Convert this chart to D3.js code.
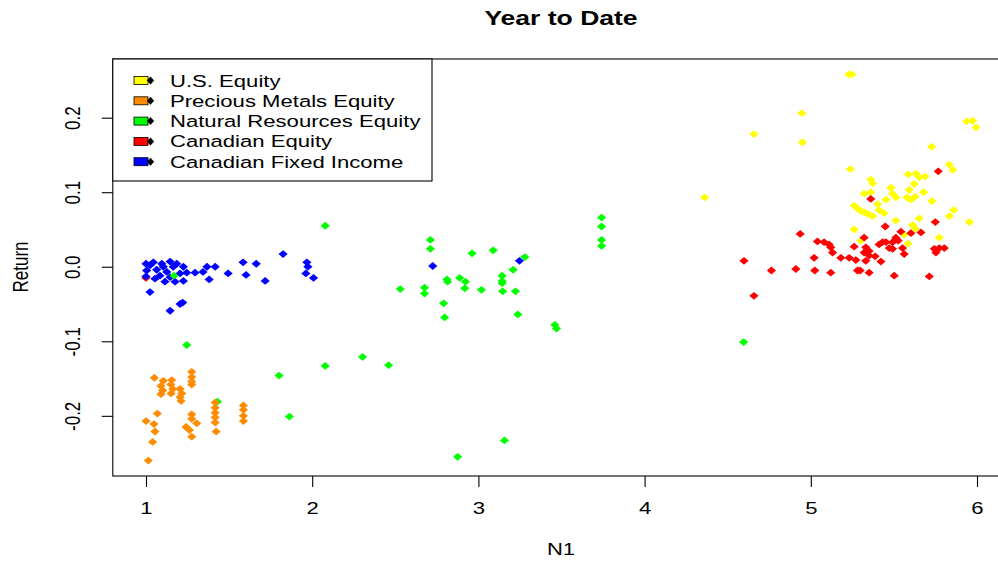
<!DOCTYPE html>
<html>
<head>
<meta charset="utf-8">
<script src="https://cdn.jsdelivr.net/npm/d3@7"></script>
<style>
  html, body { margin: 0; padding: 0; background: #fff; }
  svg { display: block; }
  text { font-family: "Liberation Sans", Arial, Helvetica, sans-serif; fill: #000; }
</style>
</head>
<body>
<svg id="chart" width="998" height="561"></svg>
<script>
// Year-to-date return (y) against N1 (x) for five asset classes.
const usEquity = [
  [4.361,0.093],[4.658,0.178],[4.946,0.206],[4.950,0.167],[5.229,0.258],[5.247,0.258],
  [5.938,0.195],[5.974,0.196],[5.994,0.187],[5.727,0.161],[5.237,0.131],[5.833,0.137],
  [5.854,0.130],[5.361,0.117],[5.372,0.112],[5.586,0.124],[5.633,0.125],[5.652,0.120],
  [5.687,0.121],[5.622,0.111],[5.592,0.103],[5.679,0.100],[5.482,0.106],[5.321,0.098],
  [5.361,0.100],[5.492,0.098],[5.512,0.093],[5.578,0.093],[5.602,0.090],[5.628,0.094],
  [5.452,0.090],[5.729,0.088],[5.261,0.082],[5.281,0.078],[5.301,0.075],[5.402,0.084],
  [5.411,0.076],[5.441,0.072],[5.342,0.071],[5.372,0.068],[5.321,0.073],[5.512,0.062],
  [5.860,0.076],[5.833,0.068],[5.954,0.060],[5.652,0.065],[5.613,0.056],[5.628,0.051],
  [5.261,0.050],[5.773,0.039],[5.586,0.031],[5.301,0.035],[5.562,0.043]
];
const preciousMetals = [
  [1.050,-0.149],[1.104,-0.153],[1.155,-0.152],[1.090,-0.160],[1.149,-0.158],[1.100,-0.166],
  [1.161,-0.164],[1.090,-0.171],[1.151,-0.170],[1.275,-0.141],[1.275,-0.148],[1.275,-0.154],
  [1.275,-0.158],[1.205,-0.164],[1.215,-0.170],[1.205,-0.175],[1.211,-0.180],[1.416,-0.182],
  [1.416,-0.189],[1.416,-0.196],[1.416,-0.202],[1.416,-0.209],[1.422,-0.221],[1.586,-0.186],
  [1.586,-0.192],[1.586,-0.200],[1.586,-0.207],[1.068,-0.197],[1.000,-0.207],[1.048,-0.211],
  [1.054,-0.221],[1.040,-0.235],[1.014,-0.260],[1.275,-0.198],[1.275,-0.204],[1.305,-0.210],
  [1.241,-0.215],[1.261,-0.219],[1.275,-0.228]
];
const naturalResources = [
  [2.711,0.036],[2.711,0.024],[2.962,0.018],[3.089,0.022],[3.279,0.013],[3.209,-0.004],
  [3.143,-0.012],[3.143,-0.019],[3.143,-0.022],[2.811,-0.017],[2.815,-0.020],[2.887,-0.015],
  [2.922,-0.020],[2.918,-0.029],[2.530,-0.030],[2.676,-0.028],[2.676,-0.036],[3.018,-0.031],
  [3.146,-0.033],[3.223,-0.033],[2.791,-0.049],[2.797,-0.068],[3.237,-0.064],[3.460,-0.078],
  [3.470,-0.083],[3.741,0.066],[3.741,0.054],[3.741,0.036],[3.741,0.028],[2.303,-0.121],
  [2.460,-0.132],[3.157,-0.233],[2.875,-0.255],[1.245,-0.105],[1.801,-0.146],[2.078,-0.133],
  [1.863,-0.201],[1.430,-0.181],[1.169,-0.012],[2.078,0.055],[4.596,-0.101]
];
const canadianEquity = [
  [4.598,0.008],[4.658,-0.039],[4.763,-0.005],[4.910,-0.003],[4.936,0.044],[5.020,0.012],
  [5.024,-0.005],[5.040,0.034],[5.080,0.033],[5.110,0.030],[5.120,0.026],[5.131,0.019],
  [5.120,-0.008],[5.181,0.012],[5.231,0.012],[5.271,0.009],[5.261,0.027],[5.297,-0.005],
  [5.281,-0.005],[5.351,-0.008],[5.321,0.039],[5.361,0.091],[5.767,0.128],[5.749,0.060],
  [5.448,0.054],[5.542,0.047],[5.602,0.045],[5.663,0.046],[5.512,0.039],[5.526,0.035],
  [5.492,0.033],[5.432,0.033],[5.452,0.033],[5.411,0.030],[5.331,0.026],[5.351,0.021],
  [5.321,0.019],[5.351,0.015],[5.472,0.025],[5.492,0.024],[5.552,0.025],[5.562,0.017],
  [5.743,0.024],[5.773,0.025],[5.803,0.025],[5.753,0.019],[5.331,0.008],[5.387,0.014],
  [5.422,0.007],[5.502,-0.012],[5.713,-0.013],[1.000,-0.015]
];
const canadianFixedIncome = [
  [1.000,0.004],[1.044,0.006],[1.095,0.004],[1.145,0.007],[1.185,0.004],[1.225,0.000],
  [1.004,-0.005],[1.064,-0.004],[1.125,-0.007],[1.205,-0.009],[1.245,-0.008],[1.000,-0.013],
  [1.054,-0.016],[1.114,-0.020],[1.175,-0.020],[1.225,-0.019],[1.024,0.002],[1.104,0.000],
  [1.164,0.000],[1.084,-0.012],[1.145,-0.014],[1.295,-0.008],[1.343,-0.007],[1.367,0.000],
  [1.380,-0.017],[1.416,0.000],[1.494,-0.009],[1.584,0.006],[1.602,-0.011],[1.663,0.004],
  [1.717,-0.019],[1.825,0.017],[1.968,0.006],[1.974,0.000],[1.962,-0.009],[2.008,-0.015],
  [1.024,-0.034],[1.205,-0.050],[1.221,-0.048],[1.145,-0.059],[2.725,0.001],[3.247,0.008]
];

const seriesNames = ["U.S. Equity", "Precious Metals Equity", "Natural Resources Equity",
                     "Canadian Equity", "Canadian Fixed Income"];
const seriesColors = ["#FFFF00", "#FF8C00", "#00FF00", "#FF0000", "#0000FF"];
const seriesData = [usEquity, preciousMetals, naturalResources, canadianEquity, canadianFixedIncome];
// drawing order of the series (index into the arrays above)
const drawOrder = [0, 3, 4, 2, 1];

const xTicks = [1, 2, 3, 4, 5, 6];
const yTicks = [-0.2, -0.1, 0.0, 0.1, 0.2];
const yTickLabels = ["-0.2", "-0.1", "0.0", "0.1", "0.2"];
const titleText = "Year to Date";
const xLabel = "N1";
const yLabel = "Return";

// ---- layout ----
const svg = d3.select("#chart");
const plot = { left: 112.8, right: 1009.2, top: 59, bottom: 476 };
const SX = 1.3;          // horizontal text stretch
const FS = 17;           // base font size

const all = seriesData.flat();
function padded(ext) { const p = (ext[1] - ext[0]) * 0.04; return [ext[0] - p, ext[1] + p]; }
const x = d3.scaleLinear().domain(padded(d3.extent(all, d => d[0]))).range([plot.left, plot.right]);
const y = d3.scaleLinear().domain(padded(d3.extent(all, d => d[1]))).range([plot.bottom, plot.top]);

function diamond(hw, hh) { return `M0,${-hh}L${hw},0L0,${hh}L${-hw},0Z`; }

// points
drawOrder.forEach(i => {
  svg.append("g").selectAll("path").data(seriesData[i]).join("path")
    .attr("d", diamond(4.6, 3.9))
    .attr("transform", d => `translate(${x(d[0])},${y(d[1])})`)
    .attr("fill", seriesColors[i]);
});

// x axis
const gx = svg.append("g").attr("transform", `translate(0,${plot.bottom})`)
  .call(d3.axisBottom(x).tickValues(xTicks).tickSize(11).tickSizeOuter(0).tickFormat(d3.format("d")));
gx.select(".domain").remove();
gx.selectAll(".tick line").attr("stroke", "#000").attr("stroke-width", 1.1);
gx.selectAll(".tick text")
  .attr("y", null).attr("dy", null)
  .attr("font-size", FS).attr("font-family", null).attr("fill", "#000")
  .attr("transform", `translate(0,38) scale(${SX},1)`);

// y axis
const gy = svg.append("g").attr("transform", `translate(${plot.left},0)`)
  .call(d3.axisLeft(y).tickValues(yTicks).tickSize(11).tickSizeOuter(0)
        .tickFormat((d, i) => yTickLabels[i]));
gy.select(".domain").remove();
gy.selectAll(".tick line").attr("stroke", "#000").attr("stroke-width", 1.1);
gy.selectAll(".tick text")
  .attr("x", null).attr("dy", null)
  .attr("text-anchor", "middle")
  .attr("font-size", FS).attr("font-family", null).attr("fill", "#000")
  .attr("transform", `translate(-33,0) scale(${SX},1) rotate(-90)`);

// plot frame
svg.append("rect")
  .attr("x", plot.left).attr("y", plot.top)
  .attr("width", plot.right - plot.left).attr("height", plot.bottom - plot.top)
  .attr("fill", "none").attr("stroke", "#000").attr("stroke-width", 1.1);

// titles
const cx = (plot.left + plot.right) / 2;
svg.append("text").text(titleText)
  .attr("text-anchor", "middle").attr("font-weight", "bold").attr("font-size", FS * 1.2)
  .attr("transform", `translate(${cx},25) scale(${SX},1)`);
svg.append("text").text(xLabel)
  .attr("text-anchor", "middle").attr("font-size", FS)
  .attr("transform", `translate(${cx},555) scale(${SX},1)`);
svg.append("text").text(yLabel)
  .attr("text-anchor", "middle").attr("font-size", FS)
  .attr("transform", `translate(28,267) scale(${SX},1) rotate(-90)`);

// legend
const leg = svg.append("g");
leg.append("rect")
  .attr("x", plot.left).attr("y", plot.top).attr("width", 432 - plot.left).attr("height", 122)
  .attr("fill", "#fff").attr("stroke", "#000").attr("stroke-width", 1.1);
seriesNames.forEach((name, i) => {
  const cy = 80.5 + i * 20.3;
  leg.append("rect").attr("x", 134).attr("y", cy - 4).attr("width", 14).attr("height", 8)
    .attr("fill", seriesColors[i]).attr("stroke", "#000").attr("stroke-width", 0.8);
  leg.append("path").attr("d", diamond(3.6, 4)).attr("transform", `translate(150.5,${cy})`).attr("fill", "#000");
  leg.append("text").text(name).attr("font-size", FS)
    .attr("transform", `translate(170,${cy + 6}) scale(${SX},1)`);
});
</script>
</body>
</html>
